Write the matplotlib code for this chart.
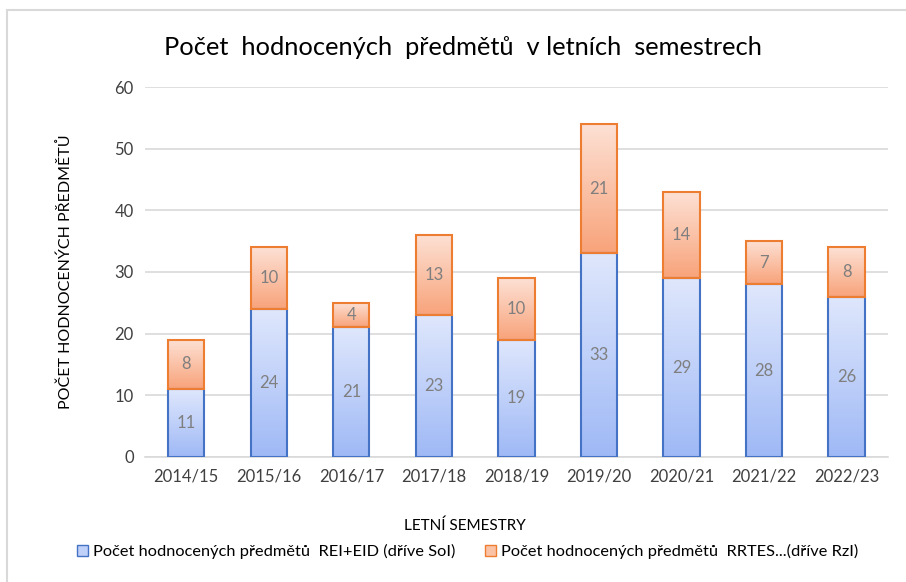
import numpy as np
import matplotlib.pyplot as plt
from matplotlib.patches import Rectangle
from matplotlib.colors import LinearSegmentedColormap

plt.rcParams['font.family'] = ['Lato', 'DejaVu Sans']

semestry = ['2014/15', '2015/16', '2016/17', '2017/18', '2018/19',
            '2019/20', '2020/21', '2021/22', '2022/23']
rei_eid = [11, 24, 21, 23, 19, 33, 29, 28, 26]
rrtes = [8, 10, 4, 13, 10, 21, 14, 7, 8]

label_rei = 'Počet hodnocených předmětů  REI+EID (dříve SoI)'
label_rrtes = 'Počet hodnocených předmětů  RRTES...(dříve RzI)'

blue_cmap = LinearSegmentedColormap.from_list('b', ['#9fb9f6', '#dfe7fc'])
orange_cmap = LinearSegmentedColormap.from_list('o', ['#f8a37a', '#fde1d5'])

fig = plt.figure(figsize=(9.06, 5.82), dpi=100)
ax = fig.add_axes([0.160, 0.2148, 0.820, 0.6357])

# frame around the chart (cut off on the right and bottom)
fig.patches.append(Rectangle((7 / 906, -0.1), 1.2, 1 - 10 / 582 + 0.1,
                             transform=fig.transFigure, fill=False,
                             edgecolor='#d9d9d9', linewidth=1.5))

x = np.arange(len(semestry))
width = 0.44


def gradient_bars(xs, heights, bottoms, cmap, edge):
    bars = ax.bar(xs, heights, width, bottom=bottoms, color='none',
                  edgecolor=edge, linewidth=1.5, zorder=3)
    grad = np.linspace(0, 1, 256).reshape(-1, 1)
    for b in bars:
        x0, y0 = b.get_x(), b.get_y()
        w, h = b.get_width(), b.get_height()
        im = ax.imshow(grad, cmap=cmap, aspect='auto', origin='lower',
                       extent=[x0, x0 + w, y0, y0 + h], zorder=2)
        im.set_clip_path(b)
    return bars


bars1 = gradient_bars(x, rei_eid, 0, blue_cmap, '#4472c4')
bars2 = gradient_bars(x, rrtes, rei_eid, orange_cmap, '#ed7d31')

for i in range(len(semestry)):
    ax.text(x[i], rei_eid[i] / 2, str(rei_eid[i]), ha='center', va='center',
            color='#7f7f7f', fontsize=12, zorder=4)
    ax.text(x[i], rei_eid[i] + rrtes[i] / 2, str(rrtes[i]), ha='center',
            va='center', color='#7f7f7f', fontsize=12, zorder=4)

ax.set_xlim(-0.5, len(semestry) - 0.5)
ax.set_ylim(0, 60)
ax.set_yticks(np.arange(0, 61, 10))
ax.set_xticks(x)
ax.set_xticklabels(semestry)
ax.yaxis.grid(True, color='#d9d9d9', linewidth=1.2, zorder=0)
ax.set_axisbelow(True)
for s in ['top', 'right', 'left']:
    ax.spines[s].set_visible(False)
ax.spines['bottom'].set_color('#d9d9d9')
ax.spines['bottom'].set_linewidth(1.2)
ax.tick_params(axis='both', length=0, labelsize=12, colors='#404040', pad=8)

ax.set_ylabel('POČET HODNOCENÝCH PŘEDMĚTŮ', fontsize=11.5, color='black')
ax.yaxis.set_label_coords(-0.097, 0.5)
ax.set_xlabel('LETNÍ SEMESTRY', fontsize=11, color='black')
ax.xaxis.set_label_coords(0.43, -0.166)
fig.text(0.511, 0.919, 'Počet  hodnocených  předmětů  v letních  semestrech',
         ha='center', va='center', fontsize=18.3, color='black')

h1 = Rectangle((0, 0), 1, 1, facecolor='#bfd0f9', edgecolor='#4472c4')
h2 = Rectangle((0, 0), 1, 1, facecolor='#fbc3a6', edgecolor='#ed7d31')
fig.legend([h1, h2], [label_rei, label_rrtes], loc='center',
           bbox_to_anchor=(0.516, 0.052), ncol=2, frameon=False, fontsize=11.8,
           handlelength=0.7, handleheight=0.7, handletextpad=0.3,
           columnspacing=1.8)

fig.savefig('out.png', dpi=100)
